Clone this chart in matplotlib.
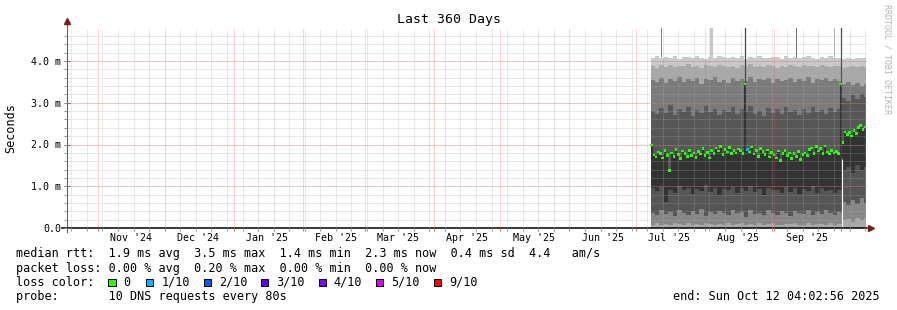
import datetime as dt
import numpy as np
import matplotlib
matplotlib.use('Agg')
import matplotlib.pyplot as plt
import matplotlib.dates as mdates
import matplotlib.transforms as mtransforms
from matplotlib.ticker import MultipleLocator, NullFormatter
from matplotlib.patches import Rectangle

plt.rcParams['font.family'] = ['DejaVu Sans Mono', 'DejaVu Sans']

W, H = 897, 310

graph_start = dt.datetime(2024, 10, 17, 20, 0)
graph_end = graph_start + dt.timedelta(days=360)
first_day = dt.datetime(2025, 7, 8)

# median rtt, one value per day from first_day (ms)
median_ms = [1.99, 1.75, 1.70, 1.82, 1.78, 1.68, 1.85, 1.74, 1.37, 1.80,
             1.72, 1.88, 1.76, 1.66, 1.84, 1.79, 1.71, 1.86, 1.74, 1.80,
             1.69, 1.83, 1.77, 1.90, 1.73, 1.81, 1.68, 1.85, 1.79, 1.92,
             1.84, 1.95, 1.76, 1.88, 1.82, 1.93, 1.78, 1.86, 1.80, 1.89,
             1.85, 1.79, 3.45, 1.88, 1.82, 1.94, 1.77, 1.86, 1.72, 1.90,
             1.83, 1.76, 1.87, 1.70, 1.81, 1.75, 1.68, 1.84, 1.62, 1.79,
             1.85, 1.73, 1.80, 1.66, 1.78, 1.71, 1.83, 1.64, 1.76, 1.80,
             1.74, 1.88, 1.92, 1.79, 1.95, 1.84, 1.90, 1.78, 1.96, 1.82,
             1.77, 1.85, 1.80, 1.83, 1.79, 3.45, 2.05, 2.30, 2.24, 2.28,
             2.20, 2.33, 2.26, 2.40, 2.45, 2.36, 2.42]
# days that lost packets -> index into loss_colors
loss_day = [43]
loss_level = [1]

# smoke edges, one value every 2nd day (ms), top to bottom
edge9 = [4.08, 4.11, 4.06, 4.10, 4.07, 4.12, 4.05, 4.09, 4.10, 4.06, 4.11, 4.08, 4.04, 4.10, 4.07, 4.12, 4.09,
         4.06, 4.10, 4.08, 4.11, 4.05, 4.09, 4.07, 4.12, 4.08, 4.06, 4.10, 4.09, 4.05, 4.11, 4.07, 4.10, 4.06,
         4.09, 4.12, 4.08, 4.05, 4.10, 4.07, 4.11, 4.08, 4.06, 4.04, 4.07, 4.05, 4.08, 4.06, 4.07]
edge8 = [3.88, 3.84, 3.90, 3.86, 3.91, 3.85, 3.89, 3.87, 3.92, 3.86, 3.88, 3.84, 3.90, 3.87, 3.85, 3.91, 3.88,
         3.86, 3.89, 3.84, 3.90, 3.87, 3.92, 3.85, 3.88, 3.86, 3.91, 3.87, 3.84, 3.89, 3.86, 3.90, 3.88, 3.85,
         3.91, 3.87, 3.89, 3.86, 3.90, 3.88, 3.85, 3.89, 3.87, 3.84, 3.86, 3.88, 3.85, 3.87, 3.86]
edge7 = [3.55, 3.50, 3.60, 3.47, 3.58, 3.53, 3.62, 3.49, 3.56, 3.52, 3.59, 3.46, 3.57, 3.54, 3.61, 3.50, 3.55,
         3.48, 3.60, 3.53, 3.57, 3.51, 3.62, 3.49, 3.56, 3.54, 3.59, 3.47, 3.58, 3.52, 3.55, 3.60, 3.50, 3.57,
         3.53, 3.61, 3.48, 3.56, 3.54, 3.59, 3.51, 3.57, 3.53, 3.45, 3.50, 3.42, 3.48, 3.40, 3.46]
edge6 = [2.80, 2.72, 2.88, 2.76, 2.95, 2.70, 2.84, 2.78, 2.90, 2.68, 2.82, 2.75, 2.92, 2.79, 2.86, 2.71, 2.83,
         2.77, 2.89, 2.73, 2.85, 2.80, 2.93, 2.74, 2.81, 2.69, 2.87, 2.76, 2.84, 2.72, 2.90, 2.78, 2.83, 2.70,
         2.86, 2.75, 2.91, 2.77, 2.82, 2.73, 2.88, 2.79, 2.85, 3.12, 3.05, 3.18, 3.10, 3.20, 3.14]
edge4 = [0.95, 0.88, 0.98, 0.62, 0.92, 0.85, 1.00, 0.90, 0.96, 0.82, 0.94, 0.89, 1.02, 0.87, 0.97, 0.80, 0.93,
         0.91, 0.99, 0.84, 0.95, 0.88, 1.01, 0.86, 0.94, 0.78, 0.97, 0.90, 0.92, 0.83, 0.98, 0.87, 0.95, 0.81,
         0.93, 0.89, 1.00, 0.85, 0.96, 0.88, 0.92, 0.84, 0.90, 1.38, 1.45, 1.32, 1.50, 1.40, 1.47]
edge3 = [0.36, 0.30, 0.42, 0.33, 0.39, 0.28, 0.44, 0.35, 0.31, 0.40, 0.34, 0.45, 0.29, 0.38, 0.33, 0.41, 0.36,
         0.30, 0.43, 0.35, 0.39, 0.27, 0.42, 0.34, 0.37, 0.31, 0.44, 0.36, 0.32, 0.40, 0.35, 0.29, 0.41, 0.37,
         0.33, 0.43, 0.30, 0.38, 0.34, 0.42, 0.36, 0.31, 0.39, 0.62, 0.55, 0.68, 0.58, 0.72, 0.60]
edge2 = [0.08, 0.11, 0.06, 0.10, 0.07, 0.12, 0.09, 0.06, 0.11, 0.08, 0.10, 0.07, 0.12, 0.09, 0.06, 0.10, 0.08,
         0.11, 0.07, 0.09, 0.12, 0.06, 0.10, 0.08, 0.11, 0.07, 0.09, 0.12, 0.08, 0.06, 0.10, 0.09, 0.11, 0.07,
         0.08, 0.12, 0.06, 0.10, 0.09, 0.07, 0.11, 0.08, 0.09, 0.18, 0.22, 0.15, 0.25, 0.19, 0.23]

# single outliers that go off the top of the graph
spike_time = ['2025-07-12 00:00', '2025-08-03 12:00', '2025-09-11 00:00', '2025-09-28 00:00',
              '2025-08-19 00:00', '2025-10-01 00:00']
spike_low = [4.10, 4.10, 4.10, 4.10, 3.45, 3.45]
spike_high = [5.00, 5.00, 5.00, 5.00, 5.00, 5.00]
# unknown data (gap)
gap_time = ['2025-10-01 09:00']
gap_high = [1.65]

loss_labels = ['0', '1/10', '2/10', '3/10', '4/10', '5/10', '9/10']
loss_colors = ['#26ff00', '#00b8ff', '#0059ff', '#5e00ff', '#7e00ff', '#dd00ff', '#ff0000']

rtt_line = 'median rtt:  1.9 ms avg  3.5 ms max  1.4 ms min  2.3 ms now  0.4 ms sd  4.4   am/s'
loss_line = 'packet loss: 0.00 % avg  0.20 % max  0.00 % min  0.00 % now'
probe_line = 'probe:       10 DNS requests every 80s'
end_line = 'end: Sun Oct 12 04:02:56 2025'

fig = plt.figure(figsize=(W / 100, H / 100), dpi=100)
ax = fig.add_axes([66.5 / W, (H - 228) / H, 800.5 / W, 200 / H])

# smoke bands
n = len(median_ms)
days = [first_day + dt.timedelta(days=i) for i in range(n)]
xs = mdates.date2num([d - dt.timedelta(hours=12) for d in days] + [days[-1] + dt.timedelta(hours=12)])


def daily(vals):
    v = np.repeat(vals, 2)[:n]
    return np.append(v, v[-1])


med = np.append(median_ms, median_ms[-1])
zero = np.zeros(len(xs))
bands = [(daily(edge9), daily(edge8), '#c9c9c9'),
         (daily(edge8), daily(edge7), '#a9a9a9'),
         (daily(edge7), daily(edge6), '#7b7b7b'),
         (daily(edge6), med, '#575757'),
         (daily(edge4), daily(edge3), '#555555'),
         (daily(edge3), daily(edge2), '#878787'),
         (daily(edge2), zero, '#a9a9a9'),
         (med, daily(edge4), '#333333')]
for hi, lo, c in bands:
    ax.fill_between(xs, lo, hi, step='post', color=c, lw=0, antialiased=False, zorder=1)

spike_x = mdates.date2num([dt.datetime.strptime(s, '%Y-%m-%d %H:%M') for s in spike_time])
ax.vlines(spike_x, spike_low, spike_high,
          colors=['#858585', '#c8c8c8', '#707070', '#bcbcbc', '#454545', '#454545'],
          linewidths=[0.72, 2.2, 0.72, 0.72, 0.9, 0.9], zorder=1.5)
gap_x = mdates.date2num([dt.datetime.strptime(s, '%Y-%m-%d %H:%M') for s in gap_time])
ax.vlines(gap_x, 0, gap_high, colors='white', linewidths=0.8, zorder=1.6)

# median dots coloured by loss
dot_colors = [loss_colors[0]] * n
for d, lv in zip(loss_day, loss_level):
    dot_colors[d] = loss_colors[lv]
ax.scatter(mdates.date2num(days), median_ms, marker='s', s=3.6, c=dot_colors, linewidths=0, zorder=4)

ax.set_xlim(mdates.date2num(graph_start), mdates.date2num(graph_end))
ax.set_ylim(0, 200 / 41.75)

# grid
ax.xaxis.set_major_locator(mdates.MonthLocator())
ax.xaxis.set_minor_locator(mdates.WeekdayLocator(byweekday=mdates.SU))
ax.xaxis.set_major_formatter(NullFormatter())
ax.yaxis.set_major_locator(MultipleLocator(1))
ax.yaxis.set_minor_locator(MultipleLocator(0.2))
ax.yaxis.remove_overlapping_locs = False
ax.set_axisbelow(False)
ax.grid(which='minor', color='#a8a8a8', alpha=0.5, lw=0.72, ls=(0, (1, 1)))
ax.grid(which='major', color='#ff4040', alpha=0.45, lw=0.72, ls=(0, (1, 1)))

yt = [0, 1, 2, 3, 4]
ax.set_yticks(yt)
ax.set_yticklabels(['0.0' if v == 0 else '%.1f m' % v for v in yt])
ax.tick_params(axis='y', which='major', direction='inout', length=4, width=0.72, color='#606060',
               labelsize=7.2, pad=2)
ax.tick_params(axis='y', which='minor', direction='out', length=2, width=0.72, color='#909090')
ax.tick_params(axis='x', which='major', direction='out', length=2.5, width=0.72, color='#e07070')
ax.tick_params(axis='x', which='minor', direction='out', length=2, width=0.72, color='#a0a0a0')

# month labels in the middle of each month
trans = mtransforms.blended_transform_factory(ax.transData, ax.transAxes)
m = dt.datetime(graph_start.year, graph_start.month, 16)
while m < graph_end:
    if m > graph_start:
        ax.text(mdates.date2num(m), -0.05, m.strftime("%b '%y"), transform=trans,
                ha='center', va='center', fontsize=7.2)
    m = dt.datetime(m.year + (m.month // 12), m.month % 12 + 1, 16)

for s in ax.spines.values():
    s.set_visible(False)
ax.plot([0, 0], [-0.02, 1.02], color='#606060', lw=0.8, transform=ax.transAxes, clip_on=False)
ax.plot([-0.005, 1.0], [0, 0], color='black', lw=1.1, transform=ax.transAxes, clip_on=False)
ax.plot([0], [1.033], marker='^', ms=4.2, color='#7b1c1c', transform=ax.transAxes, clip_on=False)
ax.plot([1.0045], [0], marker='>', ms=4.2, color='#7b1c1c', transform=ax.transAxes, clip_on=False)

fig.text(0.5, 1 - 19 / H, 'Last 360 Days', fontsize=9.5, ha='center', va='center')
fig.text(11 / W, 1 - 128 / H, 'Seconds', fontsize=8.5, rotation=90, ha='center', va='center')
fig.text(887 / W, 1 - 4 / H, 'RRDTOOL / TOBI OETIKER', fontsize=6, rotation=270, color='#b4b4b4',
         ha='center', va='top')

# legend
fig.text(16 / W, 1 - 254 / H, rtt_line, fontsize=8.5, va='center')
fig.text(16 / W, 1 - 268.3 / H, loss_line, fontsize=8.5, va='center')
fig.text(16 / W, 1 - 282.3 / H, 'loss color:', fontsize=8.5, va='center')
for i, (lab, col) in enumerate(zip(loss_labels, loss_colors)):
    bx = 108.3 if i == 0 else 146 + (i - 1) * 57.5
    fig.patches.append(Rectangle((bx / W, 1 - (282.3 + 3.7) / H), 7.3 / W, 7.3 / H, facecolor=col,
                                 edgecolor='black', lw=0.72, transform=fig.transFigure, figure=fig))
    fig.text((bx + 15.3) / W, 1 - 282.3 / H, lab, fontsize=8.5, va='center')
fig.text(16 / W, 1 - 296.5 / H, probe_line, fontsize=8.5, va='center')
fig.text(880 / W, 1 - 296.5 / H, end_line, fontsize=8.5, va='center', ha='right')

fig.savefig('out.png', dpi=100)
